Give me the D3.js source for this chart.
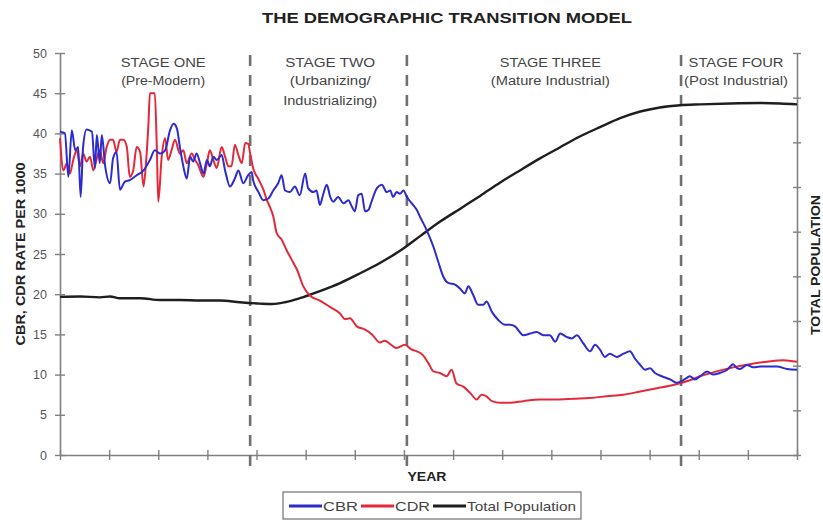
<!DOCTYPE html>
<html><head><meta charset="utf-8">
<script src="https://cdn.jsdelivr.net/npm/d3@7"></script>
<style>
body{margin:0;background:#fff;}
svg{display:block;font-family:"Liberation Sans",Arial,sans-serif;}
</style>
</head><body>
<svg id="c" width="823" height="521"></svg>
<script>
// ---------- DATA ----------
const chartTitle = "THE DEMOGRAPHIC TRANSITION MODEL";
const yTicks = [0,5,10,15,20,25,30,35,40,45,50];
const xTicks = [0,10,20,30,40,50,60,70,80,90,100,110,120,130,140,150];
const popTicks = [0,1,2,3,4,5,6,7,8,9];
const stageBounds = [38.7, 70.6, 126.4];
const stageTitles = ["STAGE ONE","STAGE TWO","STAGE THREE","STAGE FOUR"];
const stageSubtitles = [["(Pre-Modern)"],["(Urbanizing/","Industrializing)"],["(Mature Industrial)"],["(Post Industrial)"]];
const seriesNames = ["CBR","CDR","Total Population"];

const cbrYears = [0,1.0,1.7,2.4,3.1,3.7,4.2,4.7,5.4,6.5,7.1,7.5,8.1,8.5,9.2,10.2,10.8,11.5,12.2,13.2,14.2,15.6,17.0,18.3,19.3,20.4,21.4,22.4,23.1,23.8,24.4,25.1,25.8,26.5,27.1,27.8,28.5,29.2,29.9,30.5,31.2,31.9,32.9,33.6,34.6,35.6,36.3,37.3,38.3,39.0,39.3,40.4,41.4,42.4,43.4,44.4,45.1,45.8,46.8,47.8,48.8,49.9,50.5,51.6,52.2,52.9,53.6,54.3,55.0,55.6,56.6,57.7,58.7,59.4,60.0,60.7,61.4,62.1,62.8,63.4,64.5,65.5,66.5,67.2,67.8,68.5,69.2,69.9,70.6,71.6,72.6,73.3,74.6,76.0,77.0,78.0,79.0,80.4,81.4,82.4,83.1,84.1,85.1,86.2,86.8,87.9,89.2,90.6,91.6,92.6,94.3,95.7,97.0,98.4,99.7,100.8,101.8,103.1,104.2,105.2,106.5,107.9,108.9,109.9,110.9,111.9,113.3,114.7,116.0,117.0,118.1,119.1,120.1,121.1,122.5,124.2,125.5,126.5,127.6,128.2,129.2,130.3,131.7,132.9,134.3,135.8,137.0,137.8,138.4,139.8,141.1,142.5,143.9,145.9,148.0,150.0];
const cbrValues = [40.2,40.0,34.6,40.4,37.9,38.3,32.1,38.3,40.5,40.2,35.7,39.8,36.3,39.8,35.9,33.8,36.9,37.7,33.0,34.0,34.2,34.8,35.4,36.7,37.9,37.5,37.9,40.4,41.2,40.6,38.3,35.9,34.4,37.1,36.5,37.5,36.3,35.0,36.7,35.9,37.1,36.7,37.3,35.4,33.4,34.4,35.4,33.8,34.8,35.2,34.2,32.7,31.7,31.9,32.9,33.8,34.8,32.9,32.7,33.4,32.3,35.0,33.2,32.7,32.9,31.1,32.5,33.6,32.1,31.5,32.1,31.3,31.7,30.9,30.3,32.3,32.5,30.3,30.5,31.5,33.2,33.6,32.7,32.9,32.1,32.7,32.5,32.9,32.1,31.3,30.5,29.6,28.0,25.9,24.0,22.2,21.4,21.2,20.7,20.1,21.0,19.9,18.7,18.7,19.1,17.8,16.8,16.2,16.2,16.0,14.9,15.1,15.3,14.9,14.9,14.1,15.1,14.7,14.5,14.9,13.9,12.9,13.7,13.1,12.2,12.6,12.2,12.6,12.9,12.0,11.2,10.6,10.8,10.2,9.8,9.4,9.0,9.2,9.6,9.8,9.4,9.8,10.4,10.0,10.2,10.6,11.3,10.8,10.7,11.2,10.9,11.0,11.0,11.0,10.7,10.6];

const cdrYears = [0,0.7,1.4,2.0,2.7,3.4,4.1,4.7,5.4,6.1,6.8,7.5,8.1,8.8,9.5,10.2,10.8,11.5,12.2,12.9,13.6,14.2,14.9,15.6,16.3,17.0,17.5,18.0,18.3,19.3,19.7,20.0,20.7,21.4,22.0,22.7,23.4,24.4,25.1,25.8,26.8,27.5,28.1,29.2,29.9,30.5,31.2,31.9,32.9,33.6,34.3,34.9,35.6,36.3,37.0,37.7,38.3,38.7,39.3,40.4,41.4,42.1,42.7,43.4,44.1,45.1,46.1,47.5,48.2,49.5,50.9,52.9,55.0,57.0,58.0,59.0,60.4,62.1,63.5,65.1,66.1,67.2,68.5,70.2,71.6,72.6,73.9,75.0,76.0,77.3,78.7,79.7,80.7,82.1,83.5,84.8,85.8,86.8,87.9,89.6,91.6,94.3,97.7,101.1,104.5,107.9,111.3,114.7,118.1,121.5,124.8,128.2,130.3,133.7,137.0,140.4,143.9,147.2,150.0];
const cdrValues = [39.4,35.4,36.3,35.0,36.7,37.9,35.9,37.5,36.5,37.1,35.4,36.9,37.9,36.3,38.3,39.2,39.2,37.7,39.2,39.2,38.3,34.6,35.4,38.3,37.7,33.4,36.3,41.2,45.0,45.0,38.3,31.5,37.1,39.4,36.7,37.9,39.2,37.5,37.9,36.3,37.5,36.7,36.1,34.6,36.3,37.9,36.7,35.7,38.3,37.1,35.9,35.9,38.6,37.3,36.3,38.8,38.7,37.5,35.7,34.3,33.0,31.7,30.9,29.7,27.6,26.8,25.5,23.9,23.1,21.0,19.8,19.2,18.4,17.6,16.9,17.0,16.0,15.6,15.0,14.0,14.2,13.8,13.3,13.7,13.1,12.9,12.4,11.4,10.4,10.2,9.8,10.6,8.9,8.5,7.7,6.9,7.5,7.3,6.7,6.5,6.5,6.7,6.9,6.9,7.0,7.1,7.3,7.5,7.9,8.3,8.7,9.3,9.8,10.4,10.9,11.3,11.6,11.8,11.6];

const popYears = [0,4.1,8.1,10.2,12.2,16.3,20.4,24.4,28.5,32.6,36.6,40.7,43.2,45.8,48.8,52.9,57.0,61.1,65.1,69.2,73.3,77.3,81.4,85.5,89.6,93.6,97.7,101.8,105.8,109.9,114.0,118.1,122.1,126.2,130.3,136.4,142.5,146.6,150];
const popValues = [3.54,3.55,3.53,3.55,3.51,3.51,3.47,3.47,3.46,3.46,3.42,3.39,3.38,3.42,3.51,3.67,3.85,4.07,4.30,4.57,4.90,5.22,5.51,5.80,6.10,6.37,6.64,6.89,7.13,7.34,7.54,7.69,7.78,7.83,7.85,7.87,7.88,7.87,7.85];

// ---------- CHART ----------
const svg = d3.select("#c");
const x = d3.scaleLinear().domain([0,150]).range([60,797]);
const y = d3.scaleLinear().domain([0,50]).range([455,53]);
const yPop = d3.scaleLinear().domain([0,9]).range([455,53]);
const axisColor = "#808080";
const textColor = "#444";
function fit(sel, w){ sel.attr("textLength", w).attr("lengthAdjust","spacingAndGlyphs"); return sel; }

// title
fit(svg.append("text").attr("x",447).attr("y",23).attr("text-anchor","middle")
  .attr("font-size",15).attr("font-weight","bold").attr("fill","#222").text(chartTitle), 370);

// axes
const gy = svg.append("g").attr("transform","translate(60,0)")
  .call(d3.axisLeft(y).tickValues(yTicks).tickSize(5).tickSizeOuter(0).tickPadding(8));
gy.selectAll(".tick line").attr("x1",5);
gy.selectAll("text").attr("font-size",12.5).attr("fill","#555").attr("font-family",'"Liberation Sans",Arial,sans-serif');

const gx = svg.append("g").attr("transform","translate(0,455)")
  .call(d3.axisBottom(x).tickValues(xTicks).tickFormat(()=>"").tickSize(5).tickSizeOuter(0));
gx.selectAll(".tick line").attr("y1",-5);

const gr = svg.append("g").attr("transform","translate(797,0)")
  .call(d3.axisRight(yPop).tickValues(popTicks).tickFormat(()=>"").tickSize(4).tickSizeOuter(0));
gr.selectAll(".tick line").attr("x1",-4);

[gy,gx,gr].forEach(g=>{
  g.select(".domain").attr("stroke",axisColor).attr("stroke-width",1.6);
  g.selectAll(".tick line").attr("stroke",axisColor).attr("stroke-width",1.4);
});

// stage dividers
svg.append("g").selectAll("line").data(stageBounds).join("line")
  .attr("x1",d=>x(d)).attr("x2",d=>x(d)).attr("y1",55).attr("y2",466)
  .attr("stroke","#707070").attr("stroke-width",2.6).attr("stroke-dasharray","11,9");

// stage labels
const stageLabelAt = [21.0, 55.0, 99.8, 137.6];
const titleW = [85, 90, 101, 95];
const subW = [[84],[81,94],[119],[104]];
stageTitles.forEach((t,i)=>{
  fit(svg.append("text").attr("x",x(stageLabelAt[i])).attr("y",67).attr("text-anchor","middle")
    .attr("font-size",12).attr("fill",textColor).text(t), titleW[i]);
  stageSubtitles[i].forEach((s,j)=>{
    fit(svg.append("text").attr("x",x(stageLabelAt[i])).attr("y",85+j*20).attr("text-anchor","middle")
      .attr("font-size",12).attr("fill",textColor).text(s), subW[i][j]);
  });
});

// series
const mk = (xs, vs) => xs.map((d,i)=>[d, vs[i]]);
const line = d3.line().x(d=>x(d[0])).y(d=>y(d[1])).curve(d3.curveMonotoneX);
const linePop = d3.line().x(d=>x(d[0])).y(d=>yPop(d[1])).curve(d3.curveMonotoneX);
const colors = {cbr:"#2b2bcf", cdr:"#e3283a", pop:"#1e1e1e"};
svg.append("path").datum(mk(popYears,popValues)).attr("d",linePop)
  .attr("fill","none").attr("stroke",colors.pop).attr("stroke-width",2.4);
svg.append("path").datum(mk(cdrYears,cdrValues)).attr("d",line)
  .attr("fill","none").attr("stroke",colors.cdr).attr("stroke-width",2).attr("stroke-linejoin","round");
svg.append("path").datum(mk(cbrYears,cbrValues)).attr("d",line)
  .attr("fill","none").attr("stroke",colors.cbr).attr("stroke-width",2).attr("stroke-linejoin","round");

// axis titles
fit(svg.append("text").attr("x",427).attr("y",481).attr("text-anchor","middle")
  .attr("font-size",13).attr("font-weight","bold").attr("fill","#222").text("YEAR"), 39);
fit(svg.append("text").attr("transform","translate(25,254) rotate(-90)").attr("text-anchor","middle")
  .attr("font-size",13).attr("font-weight","bold").attr("fill","#222").text("CBR, CDR RATE PER 1000"), 183);
fit(svg.append("text").attr("transform","translate(820,265) rotate(-90)").attr("text-anchor","middle")
  .attr("font-size",12).attr("font-weight","bold").attr("fill","#222").text("TOTAL POPULATION"), 140);

// legend
const lg = svg.append("g");
lg.append("rect").attr("x",283).attr("y",492).attr("width",298).attr("height",27)
  .attr("fill","#fff").attr("stroke","#707070").attr("stroke-width",1.2);
const legItems = [
  {name:seriesNames[0], c:colors.cbr, x0:289, tw:35},
  {name:seriesNames[1], c:colors.cdr, x0:361, tw:35},
  {name:seriesNames[2], c:colors.pop, x0:433, tw:109}
];
legItems.forEach(it=>{
  lg.append("line").attr("x1",it.x0).attr("x2",it.x0+33).attr("y1",506).attr("y2",506)
    .attr("stroke",it.c).attr("stroke-width",3);
  fit(lg.append("text").attr("x",it.x0+34).attr("y",511).attr("font-size",13)
    .attr("fill",textColor).text(it.name), it.tw);
});
</script>
</body></html>
